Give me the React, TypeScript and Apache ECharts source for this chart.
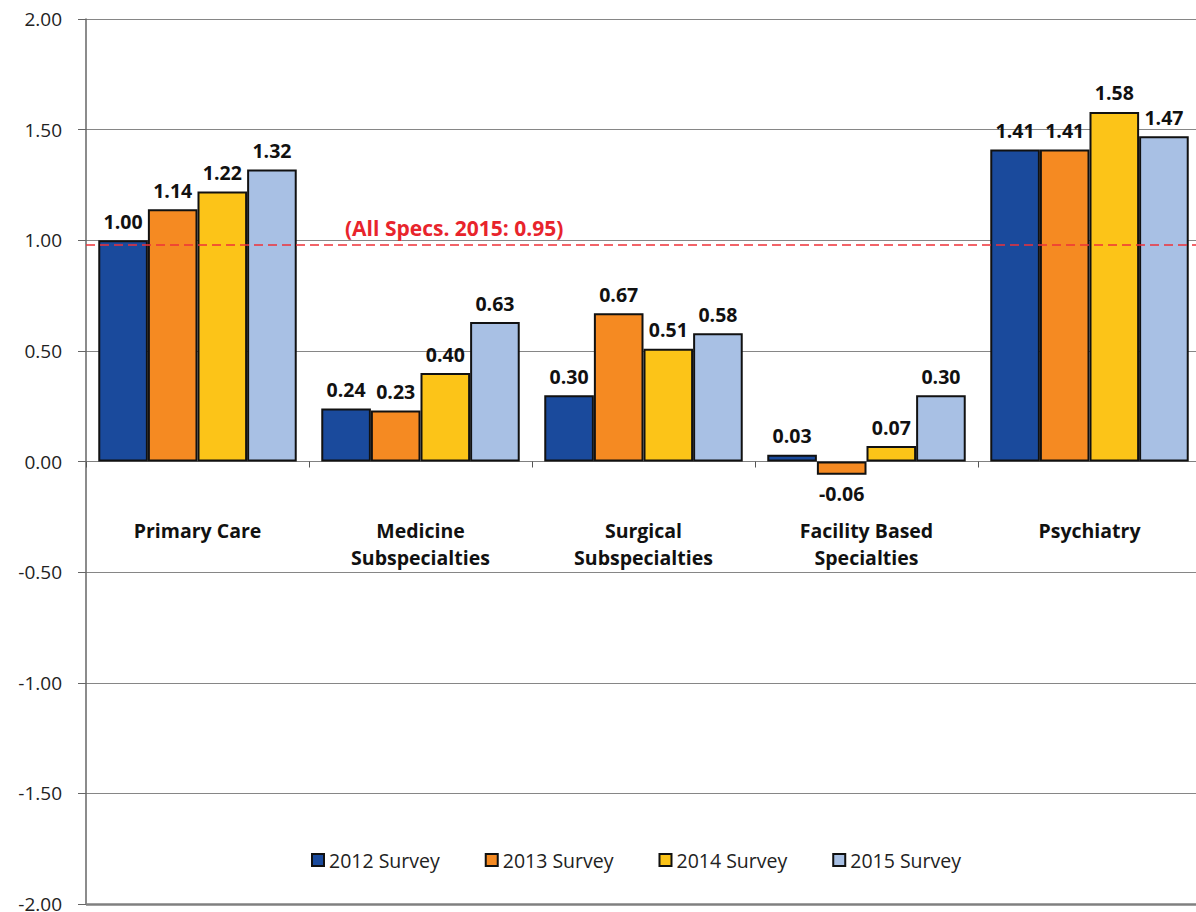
import React, { useEffect, useRef } from "react";
import * as echarts from "echarts";

const categories = [
  "Primary Care",
  "Medicine\nSubspecialties",
  "Surgical\nSubspecialties",
  "Facility Based\nSpecialties",
  "Psychiatry",
];
const seriesNames = ["2012 Survey", "2013 Survey", "2014 Survey", "2015 Survey"];
const survey2012 = [1.0, 0.24, 0.3, 0.03, 1.41];
const survey2013 = [1.14, 0.23, 0.67, -0.06, 1.41];
const survey2014 = [1.22, 0.4, 0.51, 0.07, 1.58];
const survey2015 = [1.32, 0.63, 0.58, 0.3, 1.47];
const seriesColors = ["#1A4A9C", "#F58A22", "#FCC418", "#A8C0E4"];
const referenceValue = 0.98; // line as drawn
const referenceLabel = "(All Specs. 2015: 0.95)";
const yMin = -2;
const yMax = 2;
const yInterval = 0.5;

const FONT = "'Open Sans', 'Noto Sans', sans-serif";

export default function App() {
  const ref = useRef<HTMLDivElement>(null);

  useEffect(() => {
    if (!ref.current) return;
    const chart = echarts.init(ref.current, undefined, { renderer: "svg" });
    const allData = [survey2012, survey2013, survey2014, survey2015];

    const series: any[] = allData.map((arr, i) => ({
      name: seriesNames[i],
      type: "bar",
      barGap: "0%",
      barCategoryGap: "11%",
      itemStyle: { color: seriesColors[i], borderColor: "#111", borderWidth: 2 },
      label: {
        show: true,
        distance: 9,
        fontFamily: FONT,
        fontWeight: "bold",
        fontSize: 19.5,
        color: "#111",
        formatter: (p: any) => Number(p.value).toFixed(2),
      },
      data: arr.map((v) => ({
        value: v,
        label: { position: v < 0 ? "bottom" : "top" },
      })),
      z: 2,
    }));

    series[3].markLine = {
      silent: true,
      symbol: "none",
      label: { show: false },
      z: 5,
      data: [
        {
          yAxis: referenceValue,
          lineStyle: { color: "#EE3238", width: 1.5, type: [9, 5] },
        },
        {
          yAxis: yMin,
          lineStyle: { color: "#808080", width: 2.5, type: "solid" },
        },
      ],
    };

    chart.setOption({
      animation: false,
      backgroundColor: "#ffffff",
      textStyle: { fontFamily: FONT },
      grid: {
        left: 86,
        right: -5,
        top: 19,
        bottom: 8,
        containLabel: false,
        outerBoundsMode: "none",
      },
      legend: {
        data: seriesNames,
        left: 311,
        top: 850,
        padding: 0,
        icon: "rect",
        itemWidth: 12,
        itemHeight: 12,
        itemGap: 45,
        textStyle: { fontFamily: FONT, fontSize: 19.5, color: "#222" },
      },
      graphic: [
        {
          type: "text",
          left: 345,
          top: 217,
          z: 10,
          style: {
            text: referenceLabel,
            fontFamily: FONT,
            fontWeight: "bold",
            fontSize: 21,
            fill: "#E8242C",
          },
        },
      ],
      xAxis: {
        type: "category",
        data: categories,
        axisLine: { onZero: true, lineStyle: { color: "#808080", width: 1 } },
        axisTick: { show: true, length: 6, lineStyle: { color: "#555" } },
        axisLabel: {
          interval: 0,
          margin: -387,
          fontFamily: FONT,
          fontWeight: "bold",
          fontSize: 19.5,
          lineHeight: 27,
          color: "#111",
          verticalAlign: "top",
        },
      },
      yAxis: {
        type: "value",
        min: yMin,
        max: yMax,
        interval: yInterval,
        axisLine: { show: true, lineStyle: { color: "#666", width: 1.5 } },
        axisTick: { show: true, length: 8, lineStyle: { color: "#666" } },
        axisLabel: {
          margin: 24,
          fontFamily: FONT,
          fontSize: 19,
          color: "#222",
          formatter: (v: number) => v.toFixed(2),
        },
        splitLine: { show: true, lineStyle: { color: "#868686", width: 1 } },
      },
      series,
    });
    return () => chart.dispose();
  }, []);

  return (
    <div
      ref={ref}
      style={{ position: "absolute", left: 0, top: 0, width: 1196, height: 912 }}
    />
  );
}
